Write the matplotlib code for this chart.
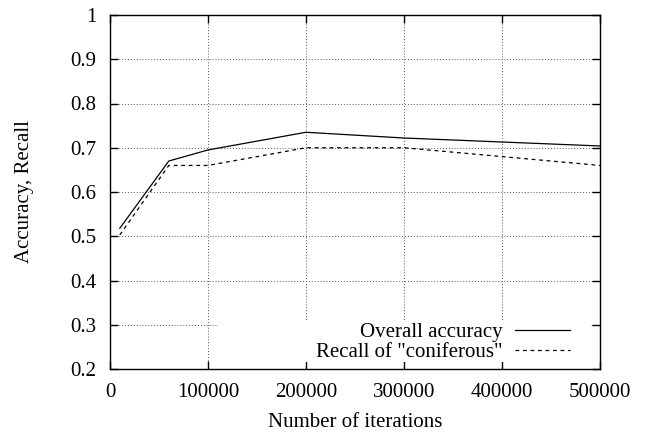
import matplotlib
matplotlib.use("Agg")
import matplotlib.pyplot as plt
from matplotlib.patches import Rectangle

# ----------- DATA -----------
iterations = [10000, 60000, 100000, 200000, 300000, 500000]
accuracy = [0.518, 0.670, 0.695, 0.735, 0.722, 0.704]
recall_coniferous = [0.503, 0.660, 0.660, 0.700, 0.700, 0.660]

x_ticks = [0, 100000, 200000, 300000, 400000, 500000]
y_ticks = [0.2, 0.3, 0.4, 0.5, 0.6, 0.7, 0.8, 0.9, 1.0]
y_labels = ["0.2", "0.3", "0.4", "0.5", "0.6", "0.7", "0.8", "0.9", "1"]

plt.rcParams["font.family"] = ["Liberation Serif", "DejaVu Serif"]
plt.rcParams["font.size"] = 15

fig = plt.figure(figsize=(6.48, 4.37), dpi=100)
ax = fig.add_axes([110 / 648, 1 - 369 / 437, 490 / 648, 354 / 437])

ax.plot(iterations, accuracy, color="black", lw=0.9, label="Overall accuracy")
ax.plot(iterations, recall_coniferous, color="black", lw=0.9, ls=(0, (3, 3)),
        label='Recall of "coniferous"')

ax.set_xlim(0, 500000)
ax.set_ylim(0.2, 1.0)
ax.set_xticks(x_ticks)
ax.set_xticklabels([str(t) for t in x_ticks])
ax.set_yticks(y_ticks)
ax.set_yticklabels(y_labels)

ax.grid(True, color="#555555", ls=(0, (1, 2)), lw=0.7)
ax.tick_params(direction="in", top=True, right=True, length=6, width=1)
ax.tick_params(axis="x", pad=10)
ax.tick_params(axis="y", pad=10)
for s in ax.spines.values():
    s.set_linewidth(1)

ax.set_xlabel("Number of iterations", labelpad=8)
ax.set_ylabel("Accuracy, Recall", labelpad=26)

# white key background (hides grid behind the key, like gnuplot)
ax.add_patch(Rectangle((0.2204, 0.02), 0.7592, 0.118, transform=ax.transAxes,
                       facecolor="white", edgecolor="none", zorder=1.8))

leg = ax.legend(loc="lower right", bbox_to_anchor=(0.9388, 0.02), frameon=False,
                markerfirst=False, handlelength=2.65, handletextpad=0.6,
                borderaxespad=0, borderpad=0, labelspacing=0.0, fontsize=15)
for t in leg.get_texts():
    t.set_ha("right")
leg.set_zorder(5)

fig.savefig("out.png", dpi=100)
